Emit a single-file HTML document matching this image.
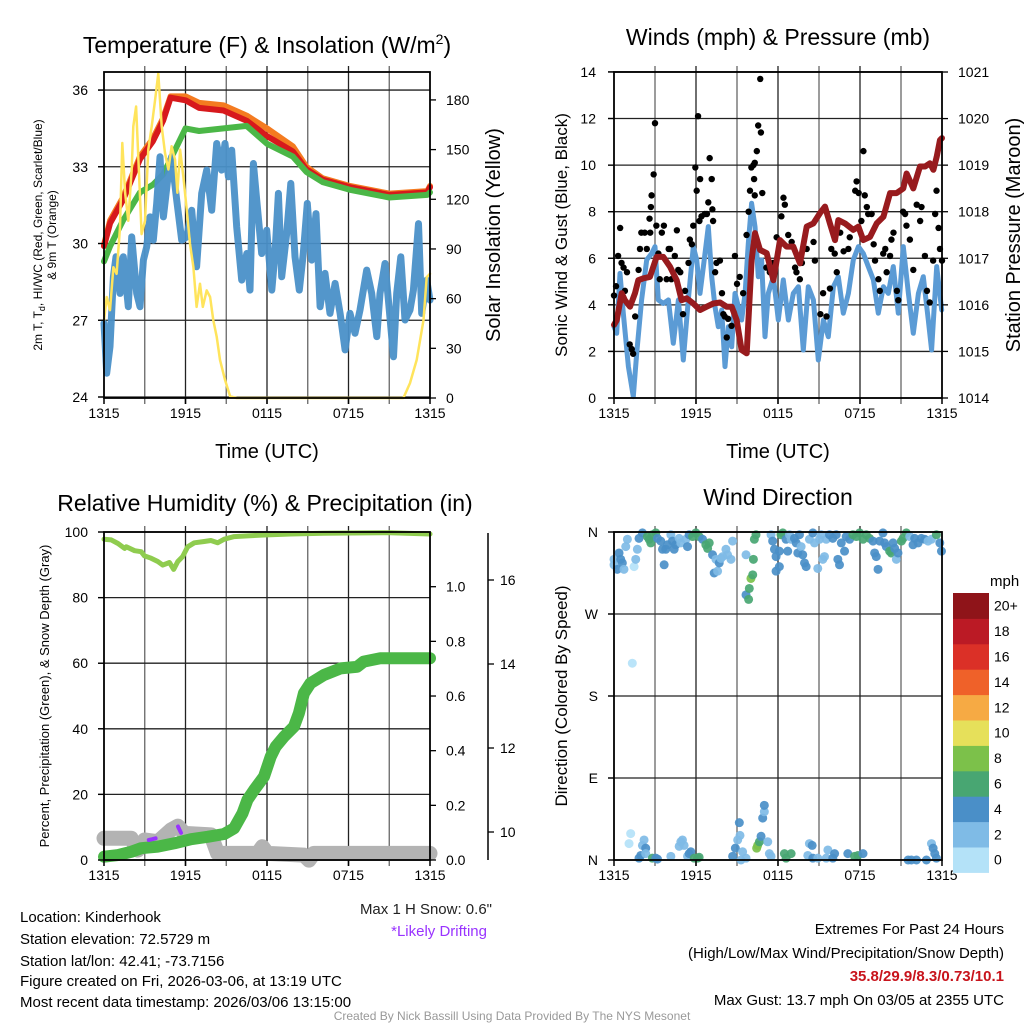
<!DOCTYPE html>
<html><head><meta charset="utf-8">
<style>
html,body{margin:0;padding:0;background:#fff;}
svg{display:block;font-family:"Liberation Sans",sans-serif;}
</style></head>
<body>
<svg id="fig" width="1024" height="1024" viewBox="0 0 1024 1024" xmlns="http://www.w3.org/2000/svg">
<rect x="0" y="0" width="1024" height="1024" fill="#fff"/>
<g id="grid"></g>
<g id="marks"></g>
<g id="axes"></g>
<g font-size="14" fill="#000">
  <text x="267" y="53" font-size="23" text-anchor="middle">Temperature (F) &amp; Insolation (W/m<tspan font-size="14" dy="-9">2</tspan><tspan dy="9">)</tspan></text>
  <text x="778" y="45" font-size="23" text-anchor="middle">Winds (mph) &amp; Pressure (mb)</text>
  <text x="265" y="511" font-size="23" text-anchor="middle">Relative Humidity (%) &amp; Precipitation (in)</text>
  <text x="778" y="505" font-size="23" text-anchor="middle">Wind Direction</text>

  <text x="267" y="458" font-size="20" text-anchor="middle">Time (UTC)</text>
  <text x="778" y="458" font-size="20" text-anchor="middle">Time (UTC)</text>

  <text transform="translate(42,235) rotate(-90)" font-size="12" text-anchor="middle">2m T, T<tspan font-size="9" dy="3">d</tspan><tspan dy="-3">, HI/WC (Red, Green, Scarlet/Blue)</tspan></text>
  <text transform="translate(56,235) rotate(-90)" font-size="12" text-anchor="middle">&amp; 9m T (Orange)</text>
  <text transform="translate(500,235) rotate(-90)" font-size="20" text-anchor="middle">Solar Insolation (Yellow)</text>
  <text transform="translate(567,235) rotate(-90)" font-size="17" text-anchor="middle">Sonic Wind &amp; Gust (Blue, Black)</text>
  <text transform="translate(1020,235) rotate(-90)" font-size="20" text-anchor="middle">Station Pressure (Maroon)</text>
  <text transform="translate(49,696) rotate(-90)" font-size="13" text-anchor="middle">Percent, Precipitation (Green), &amp; Snow Depth (Gray)</text>
  <text transform="translate(567,696) rotate(-90)" font-size="17" text-anchor="middle">Direction (Colored By Speed)</text>

  <text x="492" y="914" font-size="15" text-anchor="end" fill="#222">Max 1 H Snow: 0.6"</text>
  <text x="487" y="936" font-size="15" text-anchor="end" fill="#9933ff">*Likely Drifting</text>

  <text x="20" y="922" font-size="15">Location: Kinderhook</text>
  <text x="20" y="944" font-size="15">Station elevation: 72.5729 m</text>
  <text x="20" y="966" font-size="15">Station lat/lon: 42.41; -73.7156</text>
  <text x="20" y="986" font-size="15">Figure created on Fri, 2026-03-06, at 13:19 UTC</text>
  <text x="20" y="1007" font-size="15">Most recent data timestamp: 2026/03/06 13:15:00</text>

  <text x="1004" y="934" font-size="15" text-anchor="end">Extremes For Past 24 Hours</text>
  <text x="1004" y="958" font-size="15" text-anchor="end">(High/Low/Max Wind/Precipitation/Snow Depth)</text>
  <text x="1004" y="981" font-size="15" font-weight="bold" text-anchor="end" fill="#c8141c">35.8/29.9/8.3/0.73/10.1</text>
  <text x="1004" y="1005" font-size="15" text-anchor="end">Max Gust: 13.7 mph On 03/05 at 2355 UTC</text>
  <text x="512" y="1020" font-size="12" text-anchor="middle" fill="#999">Created By Nick Bassill Using Data Provided By The NYS Mesonet</text>
  <text x="990" y="586" font-size="15">mph</text>
</g>
<g id="cbar"></g>
</svg>
<script>
// ---------- Panel 1 data ----------
const tempHours = [0,0.45,1.4,2.65,3.6,4.35,4.9,6.0,7,8.8,10.5,12,13.9,14.9,16.1,18.1,21,23.8,24];
const tempRed = [29.9,30.8,31.7,33.3,34.0,34.8,35.7,35.6,35.3,35.2,34.8,34.2,33.6,32.9,32.5,32.2,31.9,32.0,32.2];
const tempOrange = [29.95,30.9,31.8,33.4,34.1,34.9,35.75,35.75,35.5,35.4,35.0,34.5,33.8,33.0,32.55,32.25,31.95,32.05,32.25];
const tempGreen = [29.3,29.9,30.9,32.0,32.3,32.7,33.3,34.5,34.4,34.5,34.6,33.9,33.4,32.8,32.4,32.1,31.8,31.9,32.0];
const blueHours = [0,0.2,0.44,0.69,0.88,1.18,1.42,1.79,2.04,2.41,2.65,2.9,3.14,3.39,3.63,3.88,4.12,4.37,4.74,4.98,5.35,5.72,6.09,6.46,6.82,7.19,7.56,7.93,8.3,8.66,8.91,9.16,9.4,9.77,10.14,10.51,10.75,11.0,11.24,11.61,11.98,12.35,12.59,12.84,13.08,13.45,13.75,14.06,14.38,14.67,14.97,15.29,15.61,15.91,16.27,16.64,17.01,17.38,17.75,18.11,18.48,18.85,19.34,19.71,20.08,20.32,20.69,20.94,21.31,21.55,21.85,22.16,22.53,22.78,23.15,23.39,23.76,24];
const blueTemp = [26.88,24.93,25.97,28.70,29.48,28.05,29.48,27.53,30.26,28.05,27.53,29.35,29.87,31.04,30.13,31.57,33.39,31.04,32.74,33.39,31.70,30.13,30.26,31.30,29.09,31.96,32.87,31.30,33.91,32.87,33.91,32.61,33.65,30.65,28.57,29.61,28.18,33.13,31.70,29.61,30.52,28.18,29.61,31.96,28.70,30.39,32.35,29.48,28.18,29.61,31.57,29.35,31.17,27.53,28.83,27.27,28.44,27.27,25.84,27.27,26.49,27.40,28.96,28.05,26.36,28.05,29.22,27.79,25.57,28.05,29.48,27.01,27.40,28.18,30.78,27.27,28.57,27.79];
const solarHours = [0,0.2,0.44,0.69,0.93,1.18,1.35,1.55,1.79,2.04,2.16,2.36,2.53,2.77,3.02,3.26,3.51,3.76,4.0,4.25,4.49,4.74,4.98,5.23,5.4,5.6,5.84,6.09,6.33,6.58,6.82,7.07,7.27,7.56,7.81,8.05,8.3,8.54,8.91,9.28,9.77,22.04,22.53,23.02,23.52,23.76,24];
const solarVals = [47,61,53,79,75,103,154,124,107,138,164,176,144,99,107,150,164,180,196,164,148,138,152,144,124,150,134,114,93,79,55,69,55,65,61,47,37,23,11,1,0,0,9,23,47,73,75];
// ---------- Panel 2 data ----------
const windHours = [0,0.2,0.44,0.68,1.05,1.41,1.66,2.02,2.39,2.76,3.0,3.24,3.61,3.98,4.34,4.71,5.07,5.44,5.8,6.05,6.29,6.54,6.9,7.15,7.39,7.63,7.88,8.12,8.37,8.61,8.85,9.1,9.34,9.59,9.83,10.07,10.32,10.56,10.8,11.05,11.29,11.66,12.02,12.39,12.76,13.12,13.49,13.85,14.22,14.59,14.95,15.32,15.68,16.05,16.41,16.78,17.15,17.51,17.88,18.24,18.61,18.98,19.34,19.71,20.07,20.44,20.8,21.17,21.54,21.9,22.27,22.63,23.0,23.24,23.61,23.98];
const windSpeed = [3.06,2.78,5.35,3.64,1.35,0.06,1.92,4.21,5.93,6.21,6.50,4.21,4.06,4.21,2.35,4.21,1.63,4.21,6.50,5.93,4.49,5.64,7.36,5.21,3.92,3.06,3.78,1.35,3.06,2.20,4.49,3.92,3.35,4.49,6.64,8.36,7.36,5.21,5.93,2.63,4.49,5.21,3.35,5.07,3.35,4.49,4.78,2.06,4.78,4.21,1.63,3.35,2.63,4.78,5.21,3.64,4.49,5.93,6.50,6.21,5.64,5.07,3.64,4.78,4.49,5.64,3.64,6.50,4.49,2.78,4.49,5.21,3.35,2.06,5.64,3.78];
const gustHours = [0,0.15,0.3,0.45,0.55,0.7,0.8,0.95,1.15,1.3,1.4,1.55,1.8,1.9,2.0,2.25,2.4,2.65,2.6,2.7,2.75,2.9,3.0,3.1,3.25,3.35,3.5,3.65,3.85,4.0,4.1,4.2,4.45,4.6,4.7,4.85,5.05,5.2,5.45,5.55,5.7,5.8,5.95,6.05,6.15,6.25,6.3,6.4,6.65,6.8,6.9,7.0,7.15,7.2,7.25,7.4,7.5,7.75,7.9,8.0,8.1,8.25,8.35,8.6,8.85,9.0,9.2,9.45,9.7,9.85,9.95,10.05,10.2,10.25,10.3,10.45,10.55,10.7,10.75,10.85,10.3,11.15,11.4,11.65,11.9,12.25,12.4,12.5,12.75,13.0,13.25,13.35,13.6,13.75,14.1,14.6,14.7,15.1,15.3,15.55,15.8,15.9,16.15,16.3,16.55,16.8,17.15,17.25,17.65,17.75,17.9,18.1,18.25,18.35,18.5,18.6,18.85,19.0,19.1,19.35,19.45,19.7,19.85,19.95,20.2,20.3,20.45,20.7,20.8,21.15,21.3,21.4,21.65,21.9,22.15,22.4,22.5,22.75,22.9,23.1,23.35,23.5,23.6,23.75,23.85,24.0];
const gustSpeed = [4.4,4.8,6.1,7.3,5.8,5.6,4.6,5.4,2.3,2.1,1.9,3.5,5.5,6.4,7.1,7.1,6.4,7.1,7.7,8.2,8.7,9.6,11.8,7.4,6.2,5.1,7.1,7.4,5.1,6.4,6.4,5.1,6.1,7.2,5.5,5.4,3.6,4.6,5.8,6.8,6.6,7.4,9.9,8.9,12.1,7.6,9.4,7.8,7.9,7.9,8.4,10.3,9.4,8.1,7.6,5.4,5.8,5.9,4.5,3.6,3.5,2.6,3.4,3.1,6.1,4.9,5.2,4.5,7.0,8.0,8.9,9.9,10.0,9.4,10.1,10.6,11.7,13.7,11.4,8.8,8.7,5.6,5.4,5.8,6.9,7.8,8.6,8.3,7.0,6.7,5.6,5.4,5.1,5.8,6.4,6.7,5.9,3.6,4.5,3.5,4.7,6.4,6.2,5.4,7.1,6.3,6.4,6.9,8.9,9.3,8.8,7.6,10.6,8.7,8.2,7.9,7.9,6.6,5.9,5.1,4.6,6.2,6.4,5.4,6.1,6.8,7.1,4.6,4.2,8.0,7.9,7.4,6.8,5.5,8.3,7.6,8.2,6.1,4.6,4.1,5.9,7.9,8.9,7.3,6.4,5.9];
const presHours = [0,0.2,0.56,0.8,1.17,1.54,1.78,2.15,2.63,3.12,3.61,4.1,4.59,4.95,5.32,5.8,6.29,6.78,7.27,7.76,8.24,8.61,8.98,9.34,9.71,10.07,10.32,10.68,11.17,11.66,12.15,12.63,13.12,13.61,14.1,14.59,15.07,15.44,15.8,16.17,16.41,16.9,17.51,17.88,18.24,18.73,19.22,19.71,20.2,20.68,21.17,21.41,21.9,22.39,22.76,23.12,23.37,23.61,23.85,24];
const presVals = [1015.57,1015.67,1016.25,1016.10,1015.96,1016.25,1016.53,1016.57,1016.60,1017.03,1017.03,1016.82,1016.53,1016.10,1016.14,1016.03,1015.89,1015.96,1016.03,1016.05,1015.96,1015.96,1015.67,1015.03,1014.96,1016.96,1017.54,1017.18,1017.11,1016.53,1017.39,1017.25,1017.25,1016.89,1017.68,1017.75,1017.97,1018.11,1017.75,1017.39,1017.82,1017.75,1017.61,1017.68,1017.39,1017.46,1017.75,1017.89,1018.40,1018.40,1018.50,1018.82,1018.50,1018.97,1018.97,1019.04,1018.90,1019.18,1019.54,1019.58];
// ---------- Panel 3 data ----------
const rhHours = [0,0.54,1.03,1.52,1.64,2.25,2.74,2.98,3.47,3.96,4.33,4.82,5.13,5.43,5.79,6.16,6.65,7.38,7.87,8.36,8.85,9.58,10.56,11.78,13.74,16.19,21.08,24];
const rhVals = [97.8,97.6,96.5,95.0,95.5,94.3,94.0,92.7,92.0,91.0,89.9,90.7,88.6,91.0,92.5,95.5,96.7,97.1,97.4,96.7,97.8,98.6,98.8,99.1,99.4,99.6,99.8,99.4];
const precipHours = [0,1.03,2.0,2.74,3.96,5.18,6.41,7.63,8.85,9.58,10.2,10.56,11.05,11.78,12.27,12.64,13.25,13.99,14.35,14.72,15.2,16.19,17.41,18.63,19.12,20.34,24];
const precipVals = [0.012,0.018,0.03,0.043,0.049,0.061,0.076,0.085,0.095,0.116,0.171,0.22,0.256,0.305,0.378,0.415,0.451,0.488,0.537,0.61,0.647,0.677,0.701,0.707,0.726,0.738,0.738];
const snowHours = [0,2.0,2.49,2.98,3.96,4.94,5.43,5.92,7.87,8.36,11.3,11.66,12.03,14.72,15.09,15.45,24];
const snowVals = [9.85,9.85,9.57,9.81,9.77,10.05,10.14,9.97,9.93,9.49,9.49,9.65,9.49,9.45,9.33,9.49,9.49];
const driftHours = [[3.3,3.8],[5.45,5.7]];
const driftVals = [[9.81,9.85],[10.13,9.96]];
// ---------- Panel 4 data ----------
const dirHours = [
 0,0,0.24,0.37,0.49,0.61,0.73,0.86,0.98,1.47,
 1.59,1.71,1.83,2.08,2.44,2.57,2.69,2.81,3.06,3.18,
 3.42,3.55,3.67,3.79,3.91,4.16,4.28,4.4,4.52,4.77,
 4.89,5.26,5.38,5.5,5.75,5.99,6.23,6.48,6.72,6.85,
 6.97,7.21,7.33,7.46,7.58,7.7,7.82,7.95,8.19,8.31,
 8.56,8.68,9.66,9.66,9.85,9.9,10.02,10.15,10.2,10.27,
 10.39,11.49,11.61,11.74,11.86,11.86,12.1,12.1,12.22,12.35,
 12.59,12.71,12.84,12.96,13.2,13.33,13.45,13.57,13.69,13.81,
 13.94,14.06,14.3,14.55,14.67,14.91,15.04,15.16,15.28,15.4,
 15.53,15.77,16.01,16.26,16.38,16.5,16.63,16.87,16.99,17.24,
 17.48,17.73,17.97,18.22,18.46,18.7,18.95,19.07,19.19,19.32,
 19.44,19.68,19.8,19.93,20.17,20.29,20.42,20.54,20.66,20.78,
 21.03,21.15,21.39,21.64,21.88,22.0,22.25,22.49,22.74,22.98,
 23.23,23.59,23.84,23.96,1.34,
 1.1,1.22,1.83,1.96,2.08,2.2,2.32,2.32,2.81,3.06,
 3.18,4.16,4.77,4.89,5.01,5.13,5.38,5.5,5.62,5.87,
 6.11,6.23,8.68,8.88,9.05,9.17,9.22,9.29,9.41,9.66,
 10.44,10.51,10.64,10.76,10.88,11.0,11.0,11.25,11.37,11.49,
 12.47,12.59,12.96,14.18,14.3,14.5,14.55,14.91,15.53,15.65,
 16.01,16.14,17.11,17.6,17.85,18.22,21.52,21.76,22.13,22.86,
 23.23,23.35,23.47,23.59];
const dirDeg = [
 330,324,319,337,330,326,319,344,352,322,
 330,341,353,359,355,352,348,357,359,353,
 350,341,324,341,346,357,350,341,346,353,
 348,352,344,357,355,359,355,352,346,342,
 348,335,315,330,317,326,331,333,341,335,
 330,350,335,291,286,298,309,313,330,352,
 357,357,350,341,333,317,339,322,357,359,
 352,339,357,352,353,348,337,357,344,335,
 326,322,352,359,348,320,352,357,330,333,
 352,357,353,357,330,324,348,339,355,352,
 357,355,359,352,357,353,350,337,333,319,
 350,359,348,344,339,337,348,342,330,337,
 350,353,359,355,346,353,348,353,352,350,
 352,357,348,339,216,
 18,29,2,5,16,22,13,7,2,2,
 1,4,15,20,22,16,4,7,9,2,
 2,3,4,13,22,41,27,0,9,2,
 13,16,20,26,46,53,60,20,7,4,
 7,2,7,5,18,16,2,2,2,11,
 2,7,7,4,5,7,0,0,0,0,
 18,13,7,2];
const dirSpeed = [
 3,3,5,5,5,5,3,3,3,1,
 3,3,5,5,7,7,7,7,7,5,
 5,5,5,5,5,3,5,5,5,3,
 3,3,5,5,7,7,7,5,7,7,
 7,5,5,3,3,5,3,3,3,3,
 3,3,3,5,7,7,9,7,7,7,
 7,3,5,5,5,5,5,5,7,7,
 5,5,3,3,5,5,5,5,3,5,
 5,5,3,5,3,3,3,3,3,3,
 3,5,5,5,5,5,5,5,5,5,
 7,7,7,7,7,7,5,5,5,5,
 5,5,5,5,7,7,5,5,3,5,
 7,7,7,3,5,5,5,5,5,3,
 3,7,5,5,1,
 1,1,5,5,3,3,5,3,7,5,
 5,3,3,3,3,3,3,5,5,7,
 7,7,5,5,3,5,3,3,3,3,
 9,9,7,5,5,3,5,3,3,3,
 7,7,7,3,3,5,5,3,3,3,
 5,5,5,7,7,5,5,5,5,5,
 3,5,5,5];
const colorLevels = ["#b4e2f8","#7fbbe6","#4a8fc8","#48a672","#7cc14a","#e6e05a","#f6aa44","#ef6129","#db3027","#bb1a25","#8f1419"];
const colorbarLabels = ["0","2","4","6","8","10","12","14","16","18","20+"];
const tempTicks = [24,27,30,33,36];
const solarTicks = [0,30,60,90,120,150,180];
const windTicks = [0,2,4,6,8,10,12,14];
const presTicks = [1014,1015,1016,1017,1018,1019,1020,1021];
const rhTicks = [0,20,40,60,80,100];
const precipTicks = [0.0,0.2,0.4,0.6,0.8,1.0];
const precipTickLabels = ["0.0","0.2","0.4","0.6","0.8","1.0"];
const snowTicks = [10,12,14,16];
const dirTicks = [0,90,180,270,360];
const dirTickLabels = ["N","E","S","W","N"];
const timeTicks = [0,6,12,18,24];
const timeTickLabels = ["1315","1915","0115","0715","1315"];

const NS = "http://www.w3.org/2000/svg";
const grid = document.getElementById('grid');
const marks = document.getElementById('marks');
const axes = document.getElementById('axes');
const cbar = document.getElementById('cbar');
function mk(tag, parent, attrs) {
  const e = document.createElementNS(NS, tag);
  for (const k in attrs) e.setAttribute(k, attrs[k]);
  parent.appendChild(e);
  return e;
}
const L = {x0:104, x1:430}, R = {x0:614, x1:942};
function xs(P){ return h => P.x0 + h*(P.x1-P.x0)/24; }
const x1s = xs(L), x2s = xs(R);
const yT = v => 397 - (v-24)*25.58;
const yS = v => 398 - v*1.656;
const yW = v => 398 - v*23.29;
const yP = v => 398 - (v-1014)*46.57;
const yRH = v => 860 - v*3.28;
const yPr = v => 860 - v*273.3;
const ySn = v => 832 - (v-10)*42;
const yD = v => 860 - v*328/360;

function frame(P, y0, y1, name){
  for (let h=3; h<24; h+=3){
    const l = mk('line', grid, {x1:xs(P)(h), x2:xs(P)(h), y1:y0-6, y2:y1+6, stroke: (h%6===0)?'#222':'#666', 'stroke-width':1.3});
    
    
  }
  const r = mk('rect', axes, {x:P.x0, y:y0, width:P.x1-P.x0, height:y1-y0, fill:'none', stroke:'#000', 'stroke-width':1.8});
  
  
  timeTicks.forEach((h,i)=>{
    const t = mk('line', axes, {x1:xs(P)(h), x2:xs(P)(h), y1:y1, y2:y1+6, stroke:'#000','stroke-width':1.5});
    
    
    const tx = mk('text', axes, {x:xs(P)(h), y:y1+20, 'font-size':14, 'text-anchor':'middle'});
    tx.textContent = timeTickLabels[i];
    
    
  });
}
function hgrid(P, ticks, f, labels, side, lx, name, gridOn){
  ticks.forEach((v,i)=>{
    const y = f(v);
    if (gridOn){
      const g = mk('line', grid, {x1:P.x0-6, x2:P.x1, y1:y, y2:y, stroke:'#222','stroke-width':1.3});
      
      
    }
    const xa = side==='l'?P.x0:P.x1;
    const t = mk('line', axes, {x1:xa, x2: side==='l'?xa-6:xa+6, y1:y, y2:y, stroke:'#000','stroke-width':1.3});
    
    
    const tx = mk('text', axes, {x:lx, y:y+5, 'font-size':14, 'text-anchor': side==='l'?'end':'start'});
    tx.textContent = labels? labels[i] : String(v);
    
    
  });
}
function path(xsArr, ysArr, fx, fy, color, w, name, extra){
  let d = '';
  xsArr.forEach((h,i)=>{ d += (i?'L':'M') + fx(h).toFixed(1) + ',' + fy(ysArr[i]).toFixed(1); });
  const p = mk('path', marks, Object.assign({d:d, fill:'none', stroke:color, 'stroke-width':w, 'stroke-linejoin':'round', 'stroke-linecap':'round'}, extra||{}));
  
  
  return p;
}

// Panel 1
frame(L, 72, 398, 'temp');
hgrid(L, tempTicks, yT, null, 'l', 88, 'temp-y', true);
hgrid(L, solarTicks, yS, null, 'r', 446, 'solar-y', false);
path(tempHours, tempOrange, x1s, yT, '#f47b20', 6, 'temp-9m-orange-line');
path(tempHours, tempRed, x1s, yT, '#d7191c', 6, 'temp-2m-red-line');
path(tempHours, tempGreen, x1s, yT, '#4bb747', 6, 'temp-green-line');
path(blueHours, blueTemp, x1s, yT, '#4a90c8', 7, 'temp-blue-line', {opacity:0.95});
path(solarHours, solarVals, x1s, yS, '#ffe45c', 2.5, 'solar-insolation-line');

// Panel 2
frame(R, 72, 398, 'wind');
hgrid(R, windTicks, yW, null, 'l', 596, 'wind-y', true);
hgrid(R, presTicks, yP, null, 'r', 958, 'pressure-y', false);
path(windHours, windSpeed, x2s, yW, '#5b9bd5', 5, 'sonic-wind-line');
gustHours.forEach((h,i)=>{
  const c = mk('circle', marks, {cx:x2s(h), cy:yW(gustSpeed[i]), r:3.2, fill:'#000'});
  
  
});
path(presHours, presVals, x2s, yP, '#981b1e', 6, 'pressure-line');

// Panel 3
frame(L, 532, 860, 'rh');
hgrid(L, rhTicks, yRH, null, 'l', 88, 'rh-y', true);
hgrid(L, precipTicks, yPr, precipTickLabels, 'r', 446, 'precip-y', false);
const snowAxis = mk('line', axes, {x1:488, x2:488, y1:533, y2:860, stroke:'#000','stroke-width':1.5});


snowTicks.forEach(v=>{
  const t = mk('line', axes, {x1:488, x2:494, y1:ySn(v), y2:ySn(v), stroke:'#000','stroke-width':1.3});
  
  
  const tx = mk('text', axes, {x:500, y:ySn(v)+5, 'font-size':14});
  tx.textContent = String(v);
  
  
});
path(snowHours, snowVals, x1s, ySn, '#b3b3b3', 15, 'snow-depth-line');
path(precipHours, precipVals, x1s, yPr, '#4bb747', 12, 'precipitation-line');
path(rhHours, rhVals, x1s, yRH, '#8fcc4f', 5, 'relative-humidity-line');
driftHours.forEach((hh,i)=>{ path(hh, driftVals[i], x1s, ySn, '#9933ff', 4, 'drifting-snow-segment', {'stroke-dasharray':'3 1'}); });

// Panel 4
frame(R, 532, 860, 'dir');
hgrid(R, dirTicks, yD, dirTickLabels, 'l', 598, 'dir-y', true);
function speedColor(s){ return colorLevels[Math.min(10, Math.floor(s/2))]; }
dirHours.forEach((h,i)=>{
  const c = mk('circle', marks, {cx:x2s(h), cy:yD(dirDeg[i]), r:4.5, fill:speedColor(dirSpeed[i]), opacity:0.92});
  
  
});
const cbTop = 593, cbH = 25.4;
colorLevels.forEach((col,i)=>{
  const yy = cbTop + (10-i)*cbH;
  const r = mk('rect', cbar, {x:953, y:yy, width:36, height:cbH+0.5, fill:col});
  
  
  const tx = mk('text', cbar, {x:994, y:yy+cbH/2+5, 'font-size':14});
  tx.textContent = colorbarLabels[i];
  
  
});
</script>
</body></html>
